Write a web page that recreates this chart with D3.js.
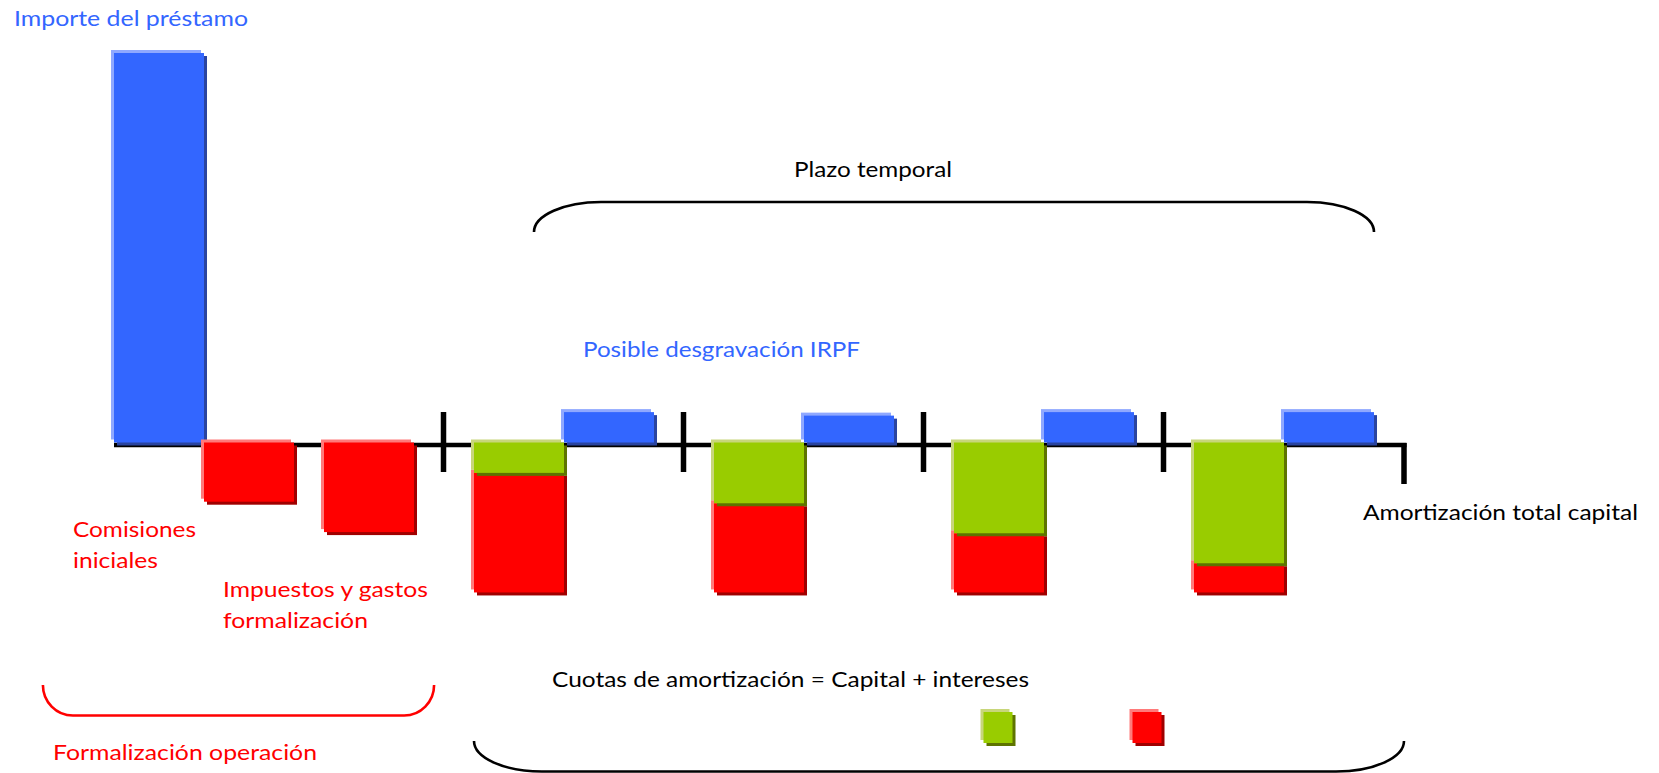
<!DOCTYPE html>
<html>
<head>
<meta charset="utf-8">
<script src="https://cdn.jsdelivr.net/npm/d3@7"></script>
<style>
  html, body { margin: 0; padding: 0; background: #ffffff; }
  svg { display: block; }
  text { font-family: Lato, "Open Sans", "Noto Sans", sans-serif; font-size: 22px; }
</style>
</head>
<body>
<svg id="chart" width="1659" height="773"></svg>
<script>
// ---------------- data ----------------
const loanCategories = ["Importe del préstamo"];
const loanValues = [100];
const costCategories = ["Comisiones iniciales", "Impuestos y gastos formalización"];
const costValues = [-15.2, -23.0];
const periods = ["Cuota 1", "Cuota 2", "Cuota 3", "Cuota 4"];
const capitalValues = [-7.8, -15.6, -23.3, -31.0];
const interestValues = [-30.7, -22.9, -15.2, -7.5];
const irpfValues = [7.8, 6.9, 7.8, 7.8];
const legendSeries = ["Capital", "Intereses"];

// ---------------- styles ----------------
const palette = {
  blue:  { main: "#3366FF", light: "#8FA8FF", dark: "#2A44A0" },
  red:   { main: "#FF0000", light: "#FF7A7A", dark: "#A00000" },
  green: { main: "#99CC00", light: "#C8D67A", dark: "#5E7400" }
};
const textBlue = "#3366FF", textRed = "#FF0000", textBlack = "#000000";

// ---------------- layout ----------------
const svg = d3.select("#chart");
const SLOTS = 43;              // horizontal layout slots
const BAR = 3;                 // bar width in slots
const PERIOD0 = 11, PERIOD_LEN = 8;
const x = d3.scaleLinear().domain([0, SLOTS]).range([114, 1404]);
const y = d3.scaleLinear().domain([0, 100]).range([442.5, 53]);
const bw = x(BAR) - x(0);
const OFF = 3;

// build bar list
const bars = [];
loanValues.forEach((v, i) => bars.push({ slot: 0, v0: 0, v1: v, c: palette.blue, order: 0 }));
const costSlots = [BAR, BAR * 2 + 1];
costValues.forEach((v, i) => bars.push({ slot: costSlots[i], v0: 0, v1: v, c: palette.red, order: 1 }));
periods.forEach((p, i) => {
  const s = PERIOD0 + 1 + i * PERIOD_LEN;
  const cap = capitalValues[i], intr = interestValues[i];
  bars.push({ slot: s, v0: cap, v1: cap + intr, c: palette.red, order: 2 });
  bars.push({ slot: s, v0: 0, v1: cap, c: palette.green, order: 3 });
  bars.push({ slot: s + BAR, v0: 0, v1: irpfValues[i], c: palette.blue, order: 4 });
});

// ---------------- axis ----------------
const axisY = y(0) + 2.5;
const axisG = svg.append("g");
axisG.append("line")
  .attr("x1", x(0)).attr("x2", x(SLOTS) + 2.5)
  .attr("y1", axisY).attr("y2", axisY)
  .attr("stroke", "#000").attr("stroke-width", 4.5);
axisG.append("line")
  .attr("x1", x(SLOTS)).attr("x2", x(SLOTS))
  .attr("y1", axisY - 2).attr("y2", axisY + 39)
  .attr("stroke", "#000").attr("stroke-width", 5.5);
axisG.selectAll("line.tick")
  .data(periods)
  .join("line")
  .attr("class", "tick")
  .attr("x1", (d, i) => x(PERIOD0 + i * PERIOD_LEN) - 0.5)
  .attr("x2", (d, i) => x(PERIOD0 + i * PERIOD_LEN) - 0.5)
  .attr("y1", axisY - 33).attr("y2", axisY + 27)
  .attr("stroke", "#000").attr("stroke-width", 5.5);

// ---------------- bars ----------------
function bevel(g, bx, by, w, h, c) {
  g.append("rect").attr("x", bx + OFF).attr("y", by + OFF).attr("width", w).attr("height", h).attr("fill", c.dark);
  g.append("rect").attr("x", bx - OFF).attr("y", by - OFF).attr("width", w).attr("height", h).attr("fill", c.light);
  g.append("rect").attr("x", bx).attr("y", by).attr("width", w).attr("height", h).attr("fill", c.main);
}
const barG = svg.append("g");
bars.sort((a, b) => a.order - b.order).forEach(d => {
  const top = Math.min(y(d.v0), y(d.v1));
  const h = Math.abs(y(d.v1) - y(d.v0));
  bevel(barG.append("g"), x(d.slot), top, bw, h, d.c);
});

// ---------------- braces ----------------
function brace(x0, x1, yFlat, yEnd, rx, color) {
  const up = yEnd > yFlat; // opening downward
  const sweep = up ? 1 : 0;
  const ry = Math.abs(yEnd - yFlat);
  const path = `M${x0},${yEnd} A${rx},${ry} 0 0 ${sweep} ${x0 + rx},${yFlat} L${x1 - rx},${yFlat} A${rx},${ry} 0 0 ${sweep} ${x1},${yEnd}`;
  svg.append("path").attr("d", path).attr("fill", "none").attr("stroke", color).attr("stroke-width", 2.6);
}
brace(x(14), x(42), 202, 232, 67, "#000");
brace(x(-2.37), x(10.67), 715.5, 685, 30, textRed);
brace(x(12), x(43), 771.5, 741, 68, "#000");

// ---------------- legend ----------------
const legendColors = [palette.green, palette.red];
const legendX = [983.5, 1132.5];
legendSeries.forEach((s, i) => {
  const g = svg.append("g").attr("class", "legend-item").attr("data-series", s);
  bevel(g, legendX[i], 712, 29, 31, legendColors[i]);
});

// ---------------- labels ----------------
const labels = [
  { t: loanCategories[0], x: 14, y: 26, c: textBlue, w: 234 },
  { t: "Plazo temporal", x: 794, y: 177, c: textBlack, w: 158 },
  { t: "Posible desgravación IRPF", x: 583, y: 357, c: textBlue, w: 277 },
  { t: "Comisiones", x: 73, y: 537, c: textRed, w: 123 },
  { t: "iniciales", x: 73, y: 568, c: textRed, w: 85 },
  { t: "Impuestos y gastos", x: 223, y: 597, c: textRed, w: 205 },
  { t: "formalización", x: 223, y: 628, c: textRed, w: 145 },
  { t: "Formalización operación", x: 53, y: 760, c: textRed, w: 264 },
  { t: "Cuotas de amortización = Capital + intereses", x: 552, y: 687, c: textBlack, w: 477 },
  { t: "Amortización total capital", x: 1363, y: 520, c: textBlack, w: 275 }
];
svg.append("g").selectAll("text")
  .data(labels)
  .join("text")
  .attr("x", d => d.x)
  .attr("y", d => d.y)
  .attr("fill", d => d.c)
  .text(d => d.t)
  .each(function(d) {
    const natural = this.getComputedTextLength();
    if (Math.abs(natural - d.w) / d.w > 0.02) {
      d3.select(this).attr("textLength", d.w).attr("lengthAdjust", "spacingAndGlyphs");
    }
  });
</script>
</body>
</html>
